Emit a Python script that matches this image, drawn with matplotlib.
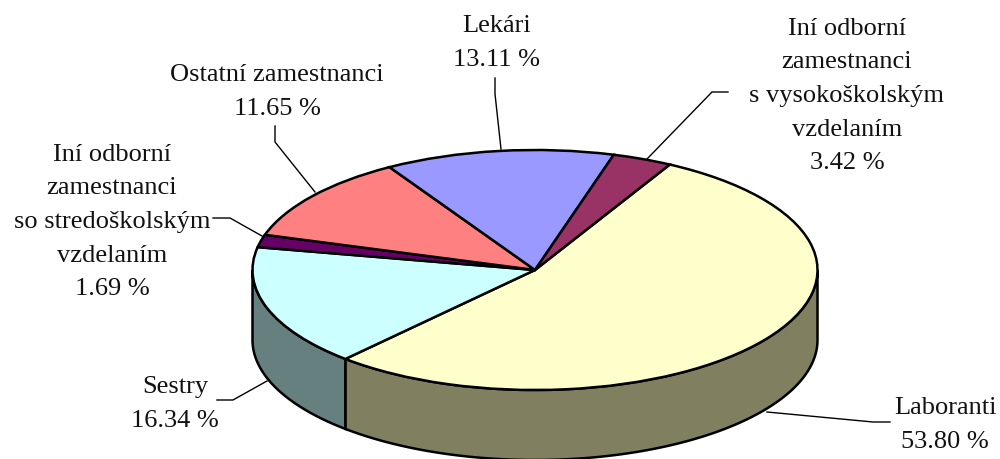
import matplotlib
matplotlib.use('Agg')
import matplotlib.pyplot as plt
import numpy as np

# data, clockwise from the big slice
labels = ['Laboranti', 'Sestry', 'Iní odborní\nzamestnanci\nso stredoškolským\nvzdelaním',
          'Ostatní zamestnanci', 'Lekári', 'Iní odborní\nzamestnanci\ns vysokoškolským\nvzdelaním']
values = [53.80, 16.34, 1.69, 11.65, 13.11, 3.42]
top_colors = ['#FFFFCC', '#CCFFFF', '#660066', '#FF8080', '#9999FF', '#993366']
side_colors = ['#808060', '#668080', '#330033', '#804040', '#4D4D80', '#4D1A33']
label_pos = [(945, 425), (175, 404), (112, 222), (277, 92), (497, 43), (847, 96)]
leaders = [[(890, 423), (873, 423), (767, 413)],
           [(217, 401), (233, 401), (267, 382)],
           [(213, 219), (230, 219), (262, 237)],
           [(275, 127), (275, 143), (315, 193)],
           [(495, 79), (495, 95), (501, 150)],
           [(728, 93), (712, 93), (647, 160)]]

W, H = 1000, 460
cx, cy, rx, ry, depth = 535, 271, 282.5, 120, 70
start = 61.5


def px(x, y):
    return (x - cx) / rx, (cy - y) / ry


plt.rcParams['font.family'] = ['Liberation Serif', 'DejaVu Serif']
fig = plt.figure(figsize=(W / 100, H / 100), dpi=100)
ax = fig.add_axes([0, 0, 1, 1])

ax.pie(values, colors=top_colors, startangle=start, counterclock=False, radius=1,
       wedgeprops=dict(edgecolor='black', linewidth=1.8, zorder=3))
ax.set_aspect('auto')
ax.set_xlim(px(0, 0)[0], px(W, 0)[0])
ax.set_ylim(px(0, H)[1], px(0, 0)[1])

# side wall, only the front half of the ellipse shows
d = depth / ry
edges = start - np.cumsum([0] + values) * 3.6
for i in range(len(values)):
    a0, a1 = edges[i], edges[i + 1]
    a0 = min(a0, 0)
    a1 = max(a1, -180)
    if a0 <= a1:
        continue
    t = np.radians(np.linspace(a0, a1, 100))
    xs = np.r_[np.cos(t), np.cos(t[::-1])]
    ys = np.r_[np.sin(t), np.sin(t[::-1]) - d]
    ax.fill(xs, ys, facecolor=side_colors[i], edgecolor='black', linewidth=1.8, zorder=2)

for i in range(len(values)):
    x, y = px(*label_pos[i])
    ax.text(x, y, '%s\n%.2f %%' % (labels[i], values[i]), ha='center', va='center',
            fontsize=19, linespacing=1.68, color='#111111', zorder=5)
    pts = np.array([px(*p) for p in leaders[i]])
    ax.plot(pts[:, 0], pts[:, 1], color='black', linewidth=1, zorder=4)

fig.savefig('out.png', dpi=100, facecolor='white')
